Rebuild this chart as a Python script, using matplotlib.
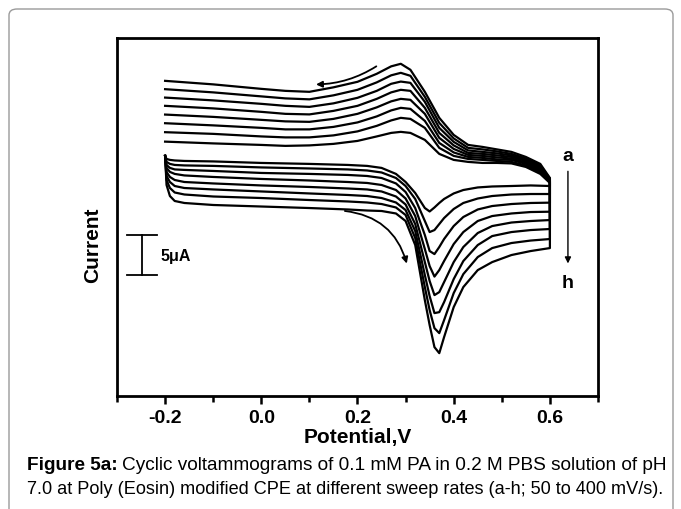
import numpy as np
import matplotlib.pyplot as plt
from matplotlib.patches import FancyBboxPatch
from matplotlib.ticker import MultipleLocator

# sweep rates a-h (mV/s)
labels = ['a', 'b', 'c', 'd', 'e', 'f', 'g', 'h']

# forward sweep (-0.2 -> 0.6 V), current in uA
fwd_v = [-0.2, -0.197, -0.19, -0.18, -0.16, -0.1, 0.0, 0.1, 0.18, 0.22, 0.25, 0.28, 0.30,
         0.32, 0.34, 0.35, 0.36, 0.37, 0.38, 0.40, 0.42, 0.45, 0.48, 0.52, 0.56, 0.60]
fwd_a = [2.38, 2.0, 1.88, 1.81, 1.75, 1.69, 1.5, 1.38, 1.25, 1.13, 0.88, 0.13, -0.88,
         -2.25, -4.13, -4.56, -4.06, -3.5, -3.0, -2.31, -1.88, -1.56, -1.44, -1.38, -1.31, -1.38]
fwd_b = [2.38, 1.63, 1.38, 1.25, 1.19, 1.13, 0.94, 0.81, 0.69, 0.56, 0.31, -0.38, -1.38,
         -3.0, -5.75, -7.13, -6.88, -6.13, -5.38, -4.25, -3.5, -2.94, -2.63, -2.44, -2.38, -2.38]
fwd_c = [2.38, 1.25, 0.88, 0.69, 0.63, 0.5, 0.25, 0.13, 0.0, -0.13, -0.38, -1.06, -2.13,
         -4.13, -7.5, -9.5, -9.88, -9.0, -8.0, -6.38, -5.25, -4.31, -3.88, -3.63, -3.5, -3.46]
fwd_d = [2.38, 0.88, 0.38, 0.13, -0.06, -0.25, -0.5, -0.69, -0.88, -1.0, -1.25, -1.88, -2.94,
         -5.13, -9.25, -11.38, -12.69, -11.88, -10.75, -8.63, -7.13, -5.75, -5.13, -4.81, -4.63, -4.59]
fwd_e = [2.38, 0.38, -0.25, -0.63, -0.88, -1.06, -1.31, -1.5, -1.69, -1.81, -2.06, -2.69, -3.69,
         -6.13, -10.88, -13.25, -15.0, -14.63, -13.38, -10.88, -9.0, -7.25, -6.38, -5.94, -5.75, -5.63]
fwd_f = [2.38, -0.13, -0.88, -1.38, -1.63, -1.81, -2.06, -2.31, -2.5, -2.63, -2.88, -3.44, -4.38,
         -7.0, -12.5, -15.13, -17.25, -17.13, -15.88, -13.0, -10.75, -8.75, -7.63, -7.13, -6.88, -6.75]
fwd_g = [2.38, -0.63, -1.63, -2.19, -2.44, -2.69, -2.88, -3.13, -3.31, -3.44, -3.63, -4.06, -5.0,
         -7.88, -14.0, -16.88, -19.13, -19.75, -18.13, -14.75, -12.38, -10.25, -9.13, -8.5, -8.19, -8.0]
fwd_h = [2.38, -1.25, -2.63, -3.25, -3.5, -3.75, -3.94, -4.13, -4.31, -4.44, -4.5, -4.81, -5.75,
         -8.75, -15.63, -18.75, -21.5, -22.25, -20.25, -16.5, -14.0, -11.88, -10.88, -10.0, -9.5, -9.13]

# reverse sweep (0.6 -> -0.2 V), listed by increasing potential, current in uA
rev_v = [-0.2, -0.1, 0.0, 0.05, 0.10, 0.15, 0.20, 0.24, 0.27, 0.29, 0.31,
         0.34, 0.37, 0.40, 0.43, 0.46, 0.49, 0.52, 0.55, 0.58, 0.60]
rev_a = [4.16, 3.94, 3.75, 3.63, 3.69, 3.88, 4.25, 4.81, 5.25, 5.38, 5.25,
         4.38, 2.63, 1.88, 1.63, 1.5, 1.5, 1.44, 1.0, 0.13, -1.0]
rev_b = [5.34, 5.13, 4.81, 4.69, 4.69, 4.94, 5.44, 6.13, 6.81, 7.13, 7.0,
         5.88, 3.38, 2.38, 2.0, 1.88, 1.75, 1.63, 1.19, 0.31, -0.88]
rev_c = [6.46, 6.19, 5.88, 5.69, 5.69, 6.0, 6.56, 7.31, 8.06, 8.38, 8.25,
         6.75, 4.0, 2.81, 2.25, 2.13, 1.94, 1.88, 1.38, 0.5, -0.81]
rev_d = [7.54, 7.25, 6.88, 6.69, 6.63, 7.0, 7.63, 8.44, 9.19, 9.5, 9.38,
         7.63, 4.63, 3.25, 2.5, 2.38, 2.19, 2.06, 1.56, 0.63, -0.75]
rev_e = [8.63, 8.31, 7.88, 7.63, 7.56, 8.0, 8.63, 9.5, 10.31, 10.63, 10.5,
         8.38, 5.25, 3.69, 2.75, 2.63, 2.44, 2.25, 1.75, 0.81, -0.63]
rev_f = [9.66, 9.31, 8.88, 8.63, 8.5, 8.94, 9.63, 10.5, 11.38, 11.66, 11.5,
         9.13, 5.88, 4.13, 3.06, 2.88, 2.69, 2.44, 1.88, 1.0, -0.5]
rev_g = [10.71, 10.31, 9.81, 9.56, 9.44, 9.94, 10.63, 11.56, 12.44, 12.75, 12.38,
         9.75, 6.5, 4.56, 3.38, 3.19, 2.94, 2.63, 2.06, 1.19, -0.44]
rev_h = [11.75, 11.31, 10.75, 10.5, 10.38, 10.94, 11.63, 12.63, 13.56, 13.88, 13.13,
         10.38, 7.13, 5.0, 3.75, 3.5, 3.19, 2.88, 2.25, 1.38, -0.38]

fwd = [fwd_a, fwd_b, fwd_c, fwd_d, fwd_e, fwd_f, fwd_g, fwd_h]
rev = [rev_a, rev_b, rev_c, rev_d, rev_e, rev_f, rev_g, rev_h]

xticks = [-0.2, 0.0, 0.2, 0.4, 0.6]
caption1 = "Cyclic voltammograms of 0.1 mM PA in 0.2 M PBS solution of pH"
caption2 = "7.0 at Poly (Eosin) modified CPE at different sweep rates (a-h; 50 to 400 mV/s)."

plt.rcParams['font.family'] = ['Liberation Sans', 'DejaVu Sans']

W, H = 681, 509
fig = plt.figure(figsize=(W / 100, H / 100), dpi=100)
ax = fig.add_axes([117 / W, 1 - 396 / H, 481 / W, 358 / H])

for f_i, r_i in zip(fwd, rev):
    v = np.concatenate([fwd_v, rev_v[::-1]])
    i = np.concatenate([f_i, r_i[::-1]])
    ax.plot(v, i, color='black', lw=1.6, solid_joinstyle='round')

ax.set_xlim(-0.3, 0.7)
ax.set_ylim(-27.6, 17.1)
ax.set_xticks(xticks)
ax.set_xticklabels([f"{t:.1f}" for t in xticks], fontweight='bold', fontsize=14)
ax.xaxis.set_minor_locator(MultipleLocator(0.1))
ax.set_yticks([])
ax.tick_params(axis='x', which='major', direction='out', length=6, width=1.8, pad=4)
ax.tick_params(axis='x', which='minor', direction='out', length=4, width=1.8)
for s in ax.spines.values():
    s.set_linewidth(2.0)

fig.text(358 / W, 1 - 437 / H, "Potential,V", fontweight='bold', fontsize=15,
         ha='center', va='center')
fig.text(93 / W, 1 - 245 / H, "Current", fontweight='bold', fontsize=15,
         ha='center', va='center', rotation=90)

# scale bar 5 uA
ax.plot([-0.248, -0.248], [-7.5, -12.5], color='black', lw=1.3)
ax.plot([-0.279, -0.217], [-7.5, -7.5], color='black', lw=1.3)
ax.plot([-0.279, -0.217], [-12.5, -12.5], color='black', lw=1.3)
ax.text(-0.21, -10.2, "5\u03bcA", fontweight='bold', fontsize=11.5, va='center', ha='left')

# sweep direction arrows
ax.annotate("", xy=(0.108, 11.3), xytext=(0.244, 13.75),
            arrowprops=dict(arrowstyle='-|>', color='black', lw=1.3,
                            connectionstyle='arc3,rad=-0.15', mutation_scale=9))
ax.annotate("", xy=(0.304, -11.4), xytext=(0.168, -4.46),
            arrowprops=dict(arrowstyle='-|>', color='black', lw=1.3,
                            connectionstyle='arc3,rad=-0.35', mutation_scale=9))

# a -> h arrow
ax.annotate("", xy=(0.6375, -11.4), xytext=(0.6375, 0.8),
            arrowprops=dict(arrowstyle='-|>', color='black', lw=1.0, mutation_scale=9))
ax.text(0.6375, 2.3, labels[0], fontweight='bold', fontsize=14, ha='center', va='center')
ax.text(0.6375, -13.6, labels[-1], fontweight='bold', fontsize=14, ha='center', va='center')

# outer rounded frame
frame = FancyBboxPatch((9 / W, -0.05), 664 / W, 1 - 9 / H + 0.05,
                       boxstyle='round,pad=0,rounding_size=0.012',
                       transform=fig.transFigure, fill=False, edgecolor='#9a9a9a', lw=1.0)
fig.patches.append(frame)

# caption, each line sized to the width it has in the original
r = fig.canvas.get_renderer()
y1 = 1 - 466 / H
y2 = 1 - 489 / H
fs = 13.5
t0 = fig.text(27 / W, y1, "Figure 5a:", fontweight='bold', fontsize=fs, va='center')
t1 = fig.text(0, y1, caption1, fontsize=fs, va='center')
t2 = fig.text(27 / W, y2, caption2, fontsize=fs, va='center')
w_line1 = t0.get_window_extent(r).width + 4 + t1.get_window_extent(r).width
s1 = fs * 641 / w_line1
t0.set_fontsize(s1)
t1.set_fontsize(s1)
t1.set_x((27 + t0.get_window_extent(r).width + 4) / W)
t2.set_fontsize(fs * 637 / t2.get_window_extent(r).width)

fig.savefig("out.png", dpi=100)
